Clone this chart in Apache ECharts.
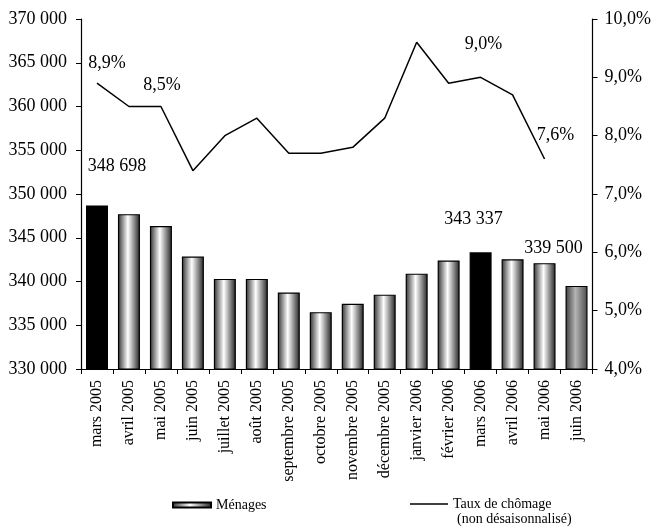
<!DOCTYPE html>
<html>
<head>
<meta charset="utf-8">
<script src="https://cdn.jsdelivr.net/npm/echarts@6/dist/echarts.min.js"></script>
<style>
  html, body { margin: 0; padding: 0; background: #fff; }
  #main { width: 654px; height: 530px; }
</style>
</head>
<body>
<div id="main"></div>
<script>
// mois
var categories = ['mars 2005', 'avril 2005', 'mai 2005', 'juin 2005', 'juillet 2005', 'août 2005',
  'septembre 2005', 'octobre 2005', 'novembre 2005', 'décembre 2005', 'janvier 2006', 'février 2006',
  'mars 2006', 'avril 2006', 'mai 2006', 'juin 2006'];
// nombre de ménages
var menages = [348698, 347700, 346350, 342850, 340300, 340300, 338750, 336500, 337450, 338500,
  340900, 342400, 343337, 342550, 342100, 339500];
// taux de chômage (%)
var chomage = [8.9, 8.5, 8.5, 7.4, 8.0, 8.3, 7.7, 7.7, 7.8, 8.3, 9.6, 8.9, 9.0, 8.7, 7.6, null];

var blackBars = [0, 12];
var greyBars = [15];
var barLabels = [0, 12, 15];
var lineLabels = [0, 2, 12, 14];

var FONT = '"Liberation Serif", "DejaVu Serif", serif';

function fmtNum(v) {
  return String(v).replace(/\B(?=(\d{3})+(?!\d))/g, ' ');
}
function fmtPct(v) {
  return v.toFixed(1).replace('.', ',') + '%';
}

var barGrad = new echarts.graphic.LinearGradient(0, 0, 1, 0, [
  { offset: 0, color: '#303030' },
  { offset: 0.45, color: '#ffffff' },
  { offset: 1, color: '#222222' }
]);
var greyGrad = new echarts.graphic.LinearGradient(0, 0, 1, 0, [
  { offset: 0, color: '#3c3c3c' },
  { offset: 0.45, color: '#b4b4b4' },
  { offset: 1, color: '#4a4a4a' }
]);

// decalage des etiquettes
var barOffsets = { 0: [20, -25], 12: [-7, -19], 15: [-23, -24] };
var lineOffsets = { 0: [10, -6], 2: [1, -7], 12: [3, -19], 14: [11, -10] };

var barData = menages.map(function (v, i) {
  var item = { value: v };
  if (blackBars.indexOf(i) >= 0) item.itemStyle = { color: '#000' };
  if (greyBars.indexOf(i) >= 0) item.itemStyle = { color: greyGrad };
  if (barLabels.indexOf(i) >= 0) {
    item.label = { show: true, position: 'top', offset: barOffsets[i] };
  }
  return item;
});

var lineData = chomage.map(function (v, i) {
  var item = { value: v };
  if (lineLabels.indexOf(i) >= 0) {
    item.label = { show: true, position: 'top', offset: lineOffsets[i] };
  }
  return item;
});

var myChart = echarts.init(document.getElementById('main'));
var option = {
  backgroundColor: '#fff',
  animation: false,
  textStyle: { fontFamily: FONT, color: '#000' },
  grid: { left: 81, right: 61, top: 19, bottom: 161, containLabel: false },
  legend: [{
    left: 172, top: 498, padding: 0,
    itemWidth: 38, itemHeight: 5, itemGap: 4,
    textStyle: { fontFamily: FONT, fontSize: 14, color: '#000' },
    data: [{ name: 'Ménages', icon: 'rect' }]
  }, {
    left: 410, top: 497, padding: 0,
    itemWidth: 38, itemHeight: 1.5, itemGap: 3,
    textStyle: { fontFamily: FONT, fontSize: 14, color: '#000' },
    data: [{ name: 'Taux de chômage', icon: 'rect' }]
  }],
  graphic: [{
    type: 'text', left: 457, top: 512,
    style: { text: '(non désaisonnalisé)', font: '14px ' + FONT, fill: '#000' }
  }],
  xAxis: {
    type: 'category',
    data: categories,
    axisLine: { lineStyle: { color: '#000', width: 1.2 } },
    axisTick: { show: true, length: 5, lineStyle: { color: '#000' } },
    axisLabel: { rotate: 90, interval: 0, fontSize: 16, fontFamily: FONT, color: '#000', margin: 11 }
  },
  yAxis: [{
    type: 'value',
    min: 330000, max: 370000, interval: 5000,
    splitLine: { show: false },
    axisLine: { show: true, lineStyle: { color: '#000', width: 1.2 } },
    axisTick: { show: true, length: 5, lineStyle: { color: '#000' } },
    axisLabel: { fontSize: 18, fontFamily: FONT, color: '#000', margin: 14, formatter: fmtNum }
  }, {
    type: 'value',
    min: 4, max: 10, interval: 1,
    splitLine: { show: false },
    axisLine: { show: true, lineStyle: { color: '#000', width: 1.2 } },
    axisTick: { show: true, length: 5, lineStyle: { color: '#000' } },
    axisLabel: { fontSize: 18, fontFamily: FONT, color: '#000', margin: 12, formatter: fmtPct }
  }],
  series: [{
    name: 'Ménages',
    type: 'bar',
    yAxisIndex: 0,
    barWidth: 22,
    data: barData,
    itemStyle: { color: barGrad, borderColor: '#000', borderWidth: 1.2 },
    label: {
      fontSize: 18, fontFamily: FONT, color: '#000',
      formatter: function (p) { return fmtNum(p.value); }
    }
  }, {
    name: 'Taux de chômage',
    type: 'line',
    yAxisIndex: 1,
    symbol: 'circle',
    symbolSize: 0,
    showSymbol: true,
    data: lineData,
    lineStyle: { color: '#000', width: 1.5 },
    itemStyle: { color: '#000' },
    label: {
      fontSize: 18, fontFamily: FONT, color: '#000',
      formatter: function (p) { return fmtPct(p.value); }
    }
  }]
};
myChart.setOption(option);
</script>
</body>
</html>
